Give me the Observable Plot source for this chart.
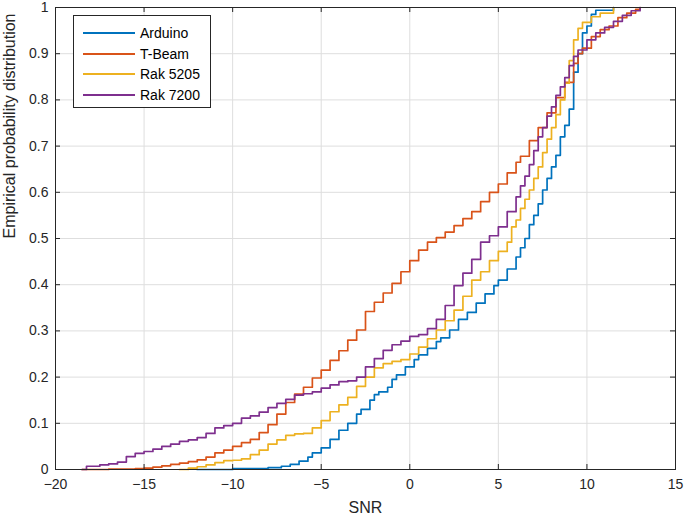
<!DOCTYPE html>
<html>
<head>
<meta charset="utf-8">
<script src="https://cdn.jsdelivr.net/npm/d3@7"></script>
<script src="https://cdn.jsdelivr.net/npm/@observablehq/plot@0.6"></script>
<style>
  html, body { margin: 0; padding: 0; background: #fff; }
  #wrap { position: relative; width: 685px; height: 521px; font-family: "Liberation Sans", Arial, sans-serif; }
  #legend { position: absolute; left: 73px; top: 15px; width: 136px; height: 91px; border: 1px solid #262626; background: #fff; }
  .row { position: absolute; left: 0; height: 20px; display: flex; align-items: center; font-size: 14px; color: #000; }
  .sw { display: inline-block; width: 52px; height: 2px; margin-left: 9px; margin-right: 5px; }
</style>
</head>
<body>
<div id="wrap"><div id="legend"></div></div>
<script>
const seriesNames = ["Arduino", "T-Beam", "Rak 5205", "Rak 7200"];
const seriesColors = ["#0072BD", "#D95319", "#EDB120", "#7E2F8E"];

const arduinoX = [-12.0,-10.0,-8.0,-7.25,-6.75,-6.25,-5.75,-5.5,-5.0,-4.5,-4.0,-3.5,-3.0,-2.75,-2.25,-2.0,-1.75,-1.25,-1.0,-0.75,-0.25,0.25,0.5,1.0,1.5,1.75,2.25,2.75,3.25,3.75,4.25,4.75,5.0,5.5,6.0,6.25,6.5,6.75,7.0,7.25,7.5,7.75,8.0,8.25,8.5,8.75,9.0,9.25,9.5,9.75,10.0,10.25,10.5,11.5];
const arduinoY = [0,0.002,0.004,0.007,0.011,0.018,0.027,0.036,0.047,0.065,0.085,0.1,0.12,0.13,0.15,0.162,0.168,0.178,0.195,0.205,0.222,0.238,0.248,0.262,0.277,0.285,0.302,0.325,0.34,0.36,0.38,0.398,0.41,0.434,0.46,0.48,0.5,0.53,0.55,0.575,0.605,0.63,0.655,0.68,0.72,0.745,0.78,0.86,0.9,0.945,0.96,0.985,0.994,1.0];

const tbeamX = [-18.5,-17,-15.5,-15.0,-14.5,-14.0,-13.5,-13.0,-12.5,-12.0,-11.5,-11.0,-10.5,-10.0,-9.5,-9.0,-8.5,-8.0,-7.5,-7.0,-6.5,-6.0,-5.5,-5.0,-4.5,-4.0,-3.5,-3.0,-2.5,-2.0,-1.5,-1.0,-0.5,0.0,0.5,1.0,1.5,2.0,2.5,3.0,3.5,4.0,4.5,5.0,5.5,6.0,6.25,6.75,7.25,7.75,8.25,8.75,9.25,9.5,9.75,10.25,10.75,11.25,11.75,12.25,12.75,13.0];
const tbeamY = [0,0.001,0.002,0.003,0.005,0.008,0.011,0.014,0.017,0.021,0.027,0.036,0.042,0.05,0.058,0.065,0.08,0.097,0.12,0.145,0.163,0.178,0.198,0.215,0.236,0.257,0.28,0.302,0.342,0.362,0.382,0.403,0.428,0.452,0.475,0.492,0.502,0.514,0.528,0.543,0.558,0.58,0.6,0.618,0.642,0.665,0.678,0.712,0.74,0.772,0.805,0.838,0.879,0.9,0.912,0.937,0.952,0.96,0.978,0.988,0.996,1.0];

const rak5205X = [-13.0,-12.5,-12.0,-11.5,-11.0,-10.5,-10.0,-9.5,-9.0,-8.5,-8.0,-7.5,-7.0,-6.5,-6.0,-5.5,-5.0,-4.5,-4.0,-3.5,-3.0,-2.5,-2.0,-1.5,-1.0,-0.5,0.0,0.5,1.0,1.5,2.0,2.5,3.0,3.5,4.0,4.5,5.0,5.5,5.75,6.0,6.25,6.5,6.75,7.0,7.25,7.5,7.75,8.0,8.25,8.5,8.75,9.0,9.25,9.5,9.75,10.25,10.75,11.5];
const rak5205Y = [0,0.003,0.006,0.01,0.015,0.019,0.02,0.023,0.032,0.042,0.055,0.064,0.074,0.077,0.078,0.09,0.106,0.125,0.14,0.156,0.18,0.2,0.22,0.229,0.234,0.238,0.25,0.265,0.283,0.302,0.322,0.345,0.375,0.41,0.428,0.452,0.472,0.492,0.525,0.54,0.565,0.585,0.605,0.63,0.655,0.686,0.715,0.74,0.768,0.8,0.836,0.885,0.93,0.955,0.968,0.98,0.988,1.0];

const rak7200X = [-18.5,-18.25,-17.5,-17.0,-16.5,-16.0,-15.5,-15.0,-14.5,-14.0,-13.5,-13.0,-12.5,-12.0,-11.5,-11.0,-10.5,-10.0,-9.5,-9.0,-8.5,-8.0,-7.5,-7.0,-6.5,-6.0,-5.5,-5.0,-4.5,-4.0,-3.5,-3.0,-2.5,-2.0,-1.5,-1.0,-0.5,0.0,0.5,1.0,1.5,2.0,2.5,3.0,3.5,4.0,4.5,5.0,5.5,6.0,6.25,6.5,6.75,7.0,7.25,7.5,7.75,8.0,8.25,8.5,8.75,9.0,9.25,9.5,10.0,10.5,11.0,11.5,12.0,12.5,13.0];
const rak7200Y = [0,0.007,0.01,0.012,0.016,0.028,0.035,0.039,0.044,0.05,0.055,0.061,0.064,0.069,0.078,0.09,0.095,0.1,0.111,0.116,0.124,0.134,0.143,0.152,0.161,0.164,0.168,0.176,0.183,0.19,0.192,0.2,0.222,0.24,0.258,0.27,0.278,0.288,0.292,0.305,0.325,0.355,0.398,0.425,0.455,0.492,0.506,0.525,0.558,0.59,0.614,0.635,0.66,0.69,0.72,0.74,0.765,0.785,0.81,0.828,0.848,0.874,0.894,0.908,0.93,0.945,0.957,0.97,0.983,0.993,1.0];

const xTicks = [-20,-15,-10,-5,0,5,10,15];
const yTicks = [0,0.1,0.2,0.3,0.4,0.5,0.6,0.7,0.8,0.9,1];

const allX = [arduinoX, tbeamX, rak5205X, rak7200X];
const allY = [arduinoY, tbeamY, rak5205Y, rak7200Y];
const data = [];
allX.forEach((xs, i) => xs.forEach((x, j) => data.push({series: seriesNames[i], x, y: allY[i][j]})));

const ink = "#262626";
const chart = Plot.plot({
  width: 685,
  height: 521,
  marginLeft: 55,
  marginRight: 10,
  marginTop: 7,
  marginBottom: 52,
  style: {fontFamily: "'Liberation Sans', Arial, sans-serif", fontSize: "14px", color: ink, background: "#fff", overflow: "visible"},
  x: {domain: [-20, 15]},
  y: {domain: [0, 1]},
  color: {domain: seriesNames, range: seriesColors},
  marks: [
    Plot.gridX(xTicks, {stroke: "#dedede", strokeOpacity: 1}),
    Plot.gridY(yTicks, {stroke: "#dedede", strokeOpacity: 1}),
    Plot.line(data, {x: "x", y: "y", z: "series", stroke: "series", curve: "step-after", strokeWidth: 1.7}),
    Plot.tickX(xTicks, {x: d => d, stroke: ink, insetTop: 457}),
    Plot.tickX(xTicks, {x: d => d, stroke: ink, insetBottom: 457}),
    Plot.tickY(yTicks, {y: d => d, stroke: ink, insetLeft: 615}),
    Plot.tickY(yTicks, {y: d => d, stroke: ink, insetRight: 615}),
    Plot.axisX(xTicks, {tickSize: 0, tickPadding: 10, label: null, fill: ink, fontSize: 14}),
    Plot.axisY(yTicks, {tickSize: 0, tickPadding: 7, label: null, fill: ink, fontSize: 14, tickFormat: d => String(d)}),
    Plot.frame({stroke: ink, strokeWidth: 1}),
    Plot.text(["SNR"], {frameAnchor: "bottom", dy: 43, fontSize: 16, fill: ink}),
    Plot.text(["Empirical probability distribution"], {frameAnchor: "left", dx: -46, rotate: -90, fontSize: 16, fill: ink})
  ]
});
document.getElementById("wrap").prepend(chart);

const legend = document.getElementById("legend");
seriesNames.forEach((name, i) => {
  const row = document.createElement("div");
  row.className = "row";
  row.style.top = (7 + i * 20.7) + "px";
  const sw = document.createElement("span");
  sw.className = "sw";
  sw.style.background = seriesColors[i];
  const t = document.createElement("span");
  t.textContent = name;
  row.append(sw, t);
  legend.append(row);
});
</script>
</body>
</html>
